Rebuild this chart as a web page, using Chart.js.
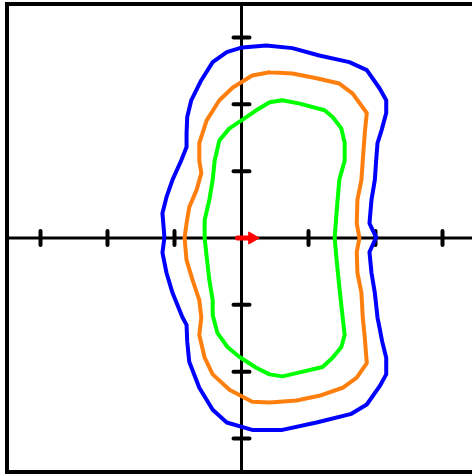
<!DOCTYPE html>
<html>
<head>
<meta charset="utf-8">
<script src="https://cdn.jsdelivr.net/npm/chart.js@4"></script>
<style>
  html, body { margin: 0; padding: 0; background: #fff; overflow: hidden; }
  canvas { display: block; }
</style>
</head>
<body>
<canvas id="chart" width="480" height="475" style="width:480px;height:475px"></canvas>
<script>
// tick positions on both axes (no labels in the picture)
const tickValues = [-3, -2, -1, 1, 2, 3];
const axisMin = -3.5;
const axisMax = 3.5;

// outer contour (blue)
const blueX = [0.01, 0.37, 0.76, 1.16, 1.61, 1.87, 2.06, 2.16, 2.16, 2.09, 2.03, 2.01, 1.99, 1.94, 1.91, 2.01,
  1.91, 1.94, 1.99, 2.03, 2.06, 2.10, 2.16, 2.16, 2.06, 1.87, 1.64, 1.12, 0.61, 0.16, -0.22, -0.43, -0.63,
  -0.78, -0.81, -0.82, -0.88, -1.03, -1.12, -1.18, -1.15, -1.18, -1.12, -1.03, -0.90, -0.82, -0.82, -0.81,
  -0.75, -0.60, -0.43, -0.22, 0.01];
const blueY = [2.85, 2.88, 2.84, 2.73, 2.63, 2.51, 2.24, 2.06, 1.87, 1.61, 1.42, 1.16, 0.87, 0.57, 0.22, 0.01,
  -0.21, -0.52, -0.82, -1.19, -1.34, -1.55, -1.79, -2.04, -2.22, -2.49, -2.63, -2.76, -2.87, -2.87, -2.76,
  -2.57, -2.24, -1.85, -1.55, -1.30, -1.19, -0.82, -0.52, -0.22, 0.01, 0.37, 0.61, 0.87, 1.16, 1.36, 1.57,
  1.81, 2.06, 2.36, 2.63, 2.78, 2.85];

// middle contour (orange)
const orangeX = [0.42, 0.76, 1.12, 1.46, 1.66, 1.87, 1.84, 1.81, 1.79, 1.73, 1.72, 1.76, 1.72, 1.73, 1.79,
  1.81, 1.84, 1.87, 1.72, 1.51, 1.16, 0.82, 0.42, 0.16, -0.18, -0.43, -0.55, -0.63, -0.60, -0.63, -0.73,
  -0.82, -0.85, -0.82, -0.78, -0.67, -0.60, -0.63, -0.63, -0.52, -0.33, -0.13, 0.16, 0.42];
const orangeY = [2.48, 2.46, 2.39, 2.31, 2.16, 1.87, 1.57, 1.16, 0.87, 0.57, 0.22, 0, -0.21, -0.52, -0.82,
  -1.19, -1.49, -1.87, -2.09, -2.24, -2.36, -2.43, -2.46, -2.45, -2.27, -2.04, -1.79, -1.45, -1.19, -0.93,
  -0.63, -0.33, 0, 0.22, 0.46, 0.72, 0.97, 1.16, 1.42, 1.76, 2.06, 2.25, 2.43, 2.48];

// inner contour (green)
const greenX = [0.61, 0.87, 1.24, 1.36, 1.49, 1.54, 1.54, 1.46, 1.43, 1.39, 1.42, 1.46, 1.51, 1.54, 1.49,
  1.36, 1.21, 0.87, 0.61, 0.42, 0.22, -0.03, -0.21, -0.36, -0.43, -0.43, -0.48, -0.52, -0.55, -0.55, -0.48,
  -0.43, -0.40, -0.33, -0.18, 0, 0.22, 0.42, 0.61];
const greenY = [2.06, 2.01, 1.91, 1.81, 1.64, 1.42, 1.16, 0.87, 0.52, 0, -0.33, -0.73, -1.19, -1.45, -1.63,
  -1.79, -1.93, -2.01, -2.07, -2.04, -1.94, -1.78, -1.63, -1.42, -1.15, -0.93, -0.63, -0.28, 0, 0.27, 0.57,
  0.87, 1.16, 1.46, 1.64, 1.76, 1.91, 2.03, 2.06];

// small red vector at the origin (tail, head centre)
const arrowX = [-0.06, 0.16];
const arrowY = [0, 0];

function toPoints(xs, ys) {
  return xs.map((x, i) => ({ x: x, y: ys[i] }));
}

function curve(xs, ys, color) {
  return {
    data: toPoints(xs, ys),
    showLine: true,
    borderColor: color,
    borderWidth: 4,
    pointRadius: 0,
    tension: 0,
    fill: false,
    borderJoinStyle: 'round',
    borderCapStyle: 'round'
  };
}

// axes through the origin with short tick marks
const axesPlugin = {
  id: 'originAxes',
  beforeDatasetsDraw(chart) {
    const { ctx, chartArea, scales } = chart;
    const x0 = scales.x.getPixelForValue(0);
    const y0 = scales.y.getPixelForValue(0);
    ctx.save();
    ctx.strokeStyle = '#000';
    ctx.lineWidth = 3;
    ctx.beginPath();
    ctx.moveTo(chartArea.left, y0);
    ctx.lineTo(chartArea.right, y0);
    ctx.moveTo(x0, chartArea.top);
    ctx.lineTo(x0, chartArea.bottom);
    ctx.stroke();

    ctx.lineWidth = 4;
    ctx.lineCap = 'round';
    ctx.beginPath();
    tickValues.forEach(v => {
      const px = scales.x.getPixelForValue(v);
      ctx.moveTo(px, y0 - 7);
      ctx.lineTo(px, y0 + 7);
      const py = scales.y.getPixelForValue(v);
      ctx.moveTo(x0 - 8, py);
      ctx.lineTo(x0 + 8, py);
    });
    ctx.stroke();
    ctx.restore();
  },
  afterDraw(chart) {
    const { ctx, chartArea } = chart;
    ctx.save();
    ctx.strokeStyle = '#000';
    ctx.lineWidth = 4;
    ctx.strokeRect(chartArea.left, chartArea.top,
      chartArea.right - chartArea.left, chartArea.bottom - chartArea.top);
    ctx.restore();
  }
};

new Chart(document.getElementById('chart'), {
  type: 'scatter',
  data: {
    datasets: [
      curve(blueX, blueY, '#0000ff'),
      curve(orangeX, orangeY, '#ff7f0e'),
      curve(greenX, greenY, '#00ff00'),
      {
        data: toPoints(arrowX, arrowY),
        showLine: true,
        borderColor: '#ff0000',
        backgroundColor: '#ff0000',
        borderWidth: 5,
        borderCapStyle: 'round',
        pointStyle: 'triangle',
        rotation: 90,
        pointRadius: [0, 7],
        pointBorderWidth: 1,
        tension: 0
      }
    ]
  },
  options: {
    responsive: false,
    animation: false,
    layout: { autoPadding: false, padding: { left: 7, top: 4, right: 4, bottom: 3 } },
    plugins: { legend: { display: false }, tooltip: { enabled: false } },
    scales: {
      x: { type: 'linear', min: axisMin, max: axisMax, display: false },
      y: { type: 'linear', min: axisMin, max: axisMax, display: false }
    }
  },
  plugins: [axesPlugin]
});
</script>
</body>
</html>
